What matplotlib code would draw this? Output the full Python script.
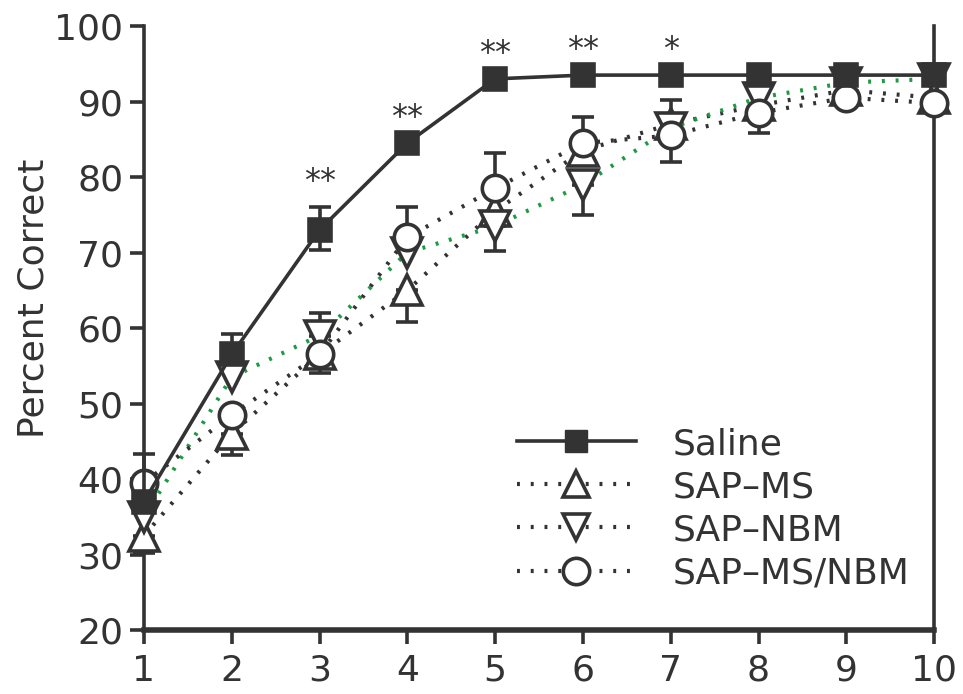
import numpy as np
import matplotlib
matplotlib.use("Agg")
import matplotlib.pyplot as plt
from matplotlib.lines import Line2D

days = np.arange(1, 11)
tick_labels = [str(d) for d in days]

saline = np.array([37, 56.5, 73, 84.5, 93, 93.5, 93.5, 93.5, 93.5, 93.5])
saline_lo = np.array([0, 0, 2.6, 0, 0, 0, 0, 0, 0, 0])
saline_hi = np.array([6.3, 2.7, 3, 0, 0, 0, 0, 0, 0, 0])

sap_ms = np.array([32.5, 46, 56.5, 65, 75.5, 83.5, 87, 89.5, 91.5, 90.5])
sap_ms_lo = np.array([2.3, 2.8, 2.5, 4.2, 0, 0, 0, 0, 0, 0])
sap_ms_hi = np.array([0, 0, 0, 0, 0, 0, 3.2, 0, 0, 0])

sap_nbm = np.array([35, 53.5, 59, 70, 73.5, 79, 86.5, 90.5, 92.5, 93])
sap_nbm_lo = np.array([0, 0, 0, 0, 3.3, 4, 0, 0, 0, 0])
sap_nbm_hi = np.array([0, 0, 3, 0, 0, 0, 0, 0, 0, 0])

ms_nbm = np.array([39.5, 48.5, 56.5, 72, 78.5, 84.5, 85.5, 88.5, 90.5, 89.8])
ms_nbm_lo = np.array([0, 0, 0, 0, 0, 0, 3.5, 2.7, 0, 0])
ms_nbm_hi = np.array([0, 0, 0, 4, 4.7, 3.5, 0, 0, 0, 0])

star_days = [3, 4, 5, 6, 7]
star_labels = ["**", "**", "**", "**", "*"]

DARK = "#333333"
GREEN = "#1e9a45"

plt.rcParams['font.family'] = ['DejaVu Sans']

fig = plt.figure(figsize=(9.63, 6.94), dpi=100)
ax = fig.add_axes([0.1495, 0.0922, 0.8205, 0.8703])

dots = (0, (0.7, 2.6))

series = [
    ("SAP\u2013MS", sap_ms, sap_ms_lo, sap_ms_hi, "^", "white", DARK, dots, 21),
    ("SAP\u2013NBM", sap_nbm, sap_nbm_lo, sap_nbm_hi, "v", "white", GREEN, dots, 21),
    ("SAP\u2013MS/NBM", ms_nbm, ms_nbm_lo, ms_nbm_hi, "o", "white", DARK, dots, 19),
    ("Saline", saline, saline_lo, saline_hi, "s", DARK, DARK, "-", 16),
]

z = 3
for name, y, lo, hi, mk, fc, lc, ls, ms in series:
    m = (lo > 0) | (hi > 0)
    ax.errorbar(days[m], y[m], yerr=[lo[m], hi[m]], fmt="none", ecolor=DARK,
                elinewidth=2.6, capsize=8, capthick=2.6, zorder=z, clip_on=False)
    ax.plot(days, y, linestyle=ls, color=lc, lw=3.0 if ls != "-" else 2.6,
            zorder=z + 0.1, clip_on=False)
    ax.plot(days, y, linestyle="none", marker=mk, markersize=ms,
            markerfacecolor=fc, markeredgecolor=DARK, markeredgewidth=2.6,
            zorder=z + 0.2, clip_on=False)
    z += 1

for d, lab in zip(star_days, star_labels):
    i = d - 1
    ax.annotate(lab, (d, saline[i] + saline_hi[i]), xytext=(0, 7),
                textcoords="offset points", ha="center", va="bottom",
                fontsize=23, color=DARK)

ax.set_xlim(1, 10)
ax.set_ylim(20, 100)
ax.set_xticks(days)
ax.set_xticklabels(tick_labels)
ax.set_yticks(np.arange(20, 101, 10))
ax.tick_params(axis="both", direction="out", colors=DARK, labelsize=26,
               width=2.6, length=10)
ax.tick_params(axis="x", pad=7)
ax.tick_params(axis="y", pad=5)
ax.spines["top"].set_visible(False)
ax.spines["left"].set_linewidth(2.6)
ax.spines["bottom"].set_linewidth(4)
ax.spines["right"].set_linewidth(2.6)
for s in ["left", "bottom", "right"]:
    ax.spines[s].set_color(DARK)
ax.set_ylabel("Percent Correct", fontsize=26, color=DARK)
ax.yaxis.set_label_coords(-0.118, 0.55)

handles = [
    Line2D([], [], color=DARK, lw=2.6, ls="-", marker="s", markersize=16,
           markerfacecolor=DARK, markeredgecolor=DARK),
    Line2D([], [], color=DARK, lw=3.0, ls=dots, marker="^", markersize=19,
           markerfacecolor="white", markeredgecolor=DARK, markeredgewidth=2.6),
    Line2D([], [], color=DARK, lw=3.0, ls=dots, marker="v", markersize=19,
           markerfacecolor="white", markeredgecolor=DARK, markeredgewidth=2.6),
    Line2D([], [], color=DARK, lw=3.0, ls=dots, marker="o", markersize=19,
           markerfacecolor="white", markeredgecolor=DARK, markeredgewidth=2.6),
]
labels = ["Saline", "SAP\u2013MS", "SAP\u2013NBM", "SAP\u2013MS/NBM"]
leg = ax.legend(handles, labels, loc="upper left", bbox_to_anchor=(0.472, 0.336),
                frameon=False, fontsize=26, handlelength=3.3, handletextpad=1.0,
                labelspacing=0.25, borderpad=0, borderaxespad=0)
for t in leg.get_texts():
    t.set_color(DARK)

fig.savefig("out.png", dpi=100)
